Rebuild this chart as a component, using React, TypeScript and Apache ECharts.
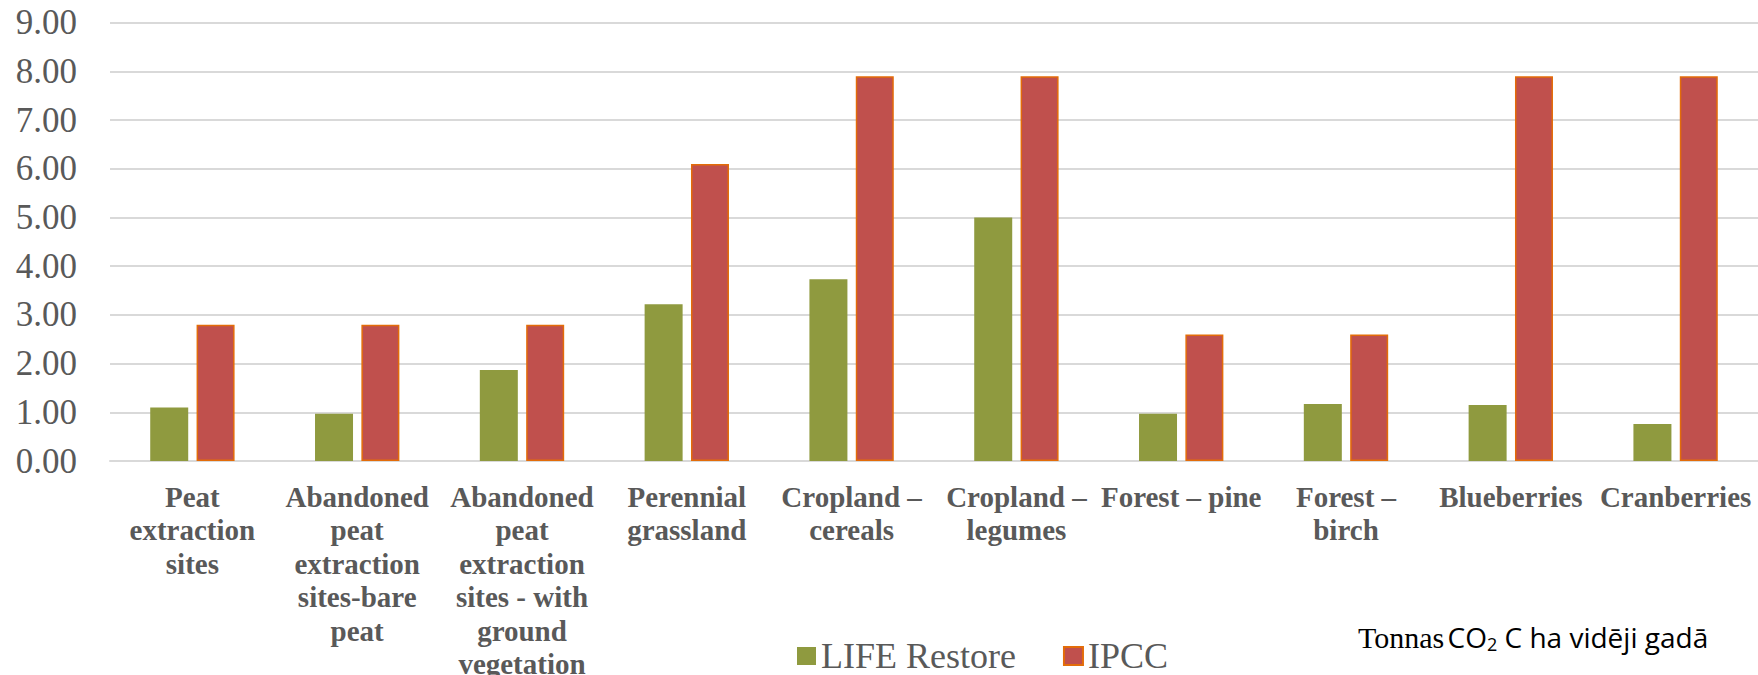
import React, { useEffect, useRef } from "react";
import * as echarts from "echarts";

const categories = [
  "Peat\nextraction\nsites",
  "Abandoned\npeat\nextraction\nsites-bare\npeat",
  "Abandoned\npeat\nextraction\nsites - with\nground\nvegetation",
  "Perennial\ngrassland",
  "Cropland –\ncereals",
  "Cropland –\nlegumes",
  "Forest – pine",
  "Forest –\nbirch",
  "Blueberries",
  "Cranberries",
];
const lifeRestore = [1.1, 0.97, 1.87, 3.22, 3.73, 5.0, 0.97, 1.17, 1.15, 0.76];
const ipcc = [2.8, 2.8, 2.8, 6.1, 7.9, 7.9, 2.6, 2.6, 7.9, 7.9];
const seriesNames = ["LIFE Restore", "IPCC"];
const yMin = 0;
const yMax = 9;
const yStep = 1;

export default function App() {
  const ref = useRef<HTMLDivElement>(null);
  useEffect(() => {
    if (!ref.current) return;
    const chart = echarts.init(ref.current, undefined, { renderer: "svg" });
    const serif = "'Liberation Serif', 'Times New Roman', serif";
    const sans = "'Open Sans', 'Noto Sans', sans-serif";
    chart.setOption({
      animation: false,
      backgroundColor: "#ffffff",
      grid: {
        left: 110,
        right: 0,
        top: 22.7,
        bottom: 214,
        containLabel: false,
        outerBoundsMode: "none",
      },
      xAxis: {
        type: "category",
        data: categories,
        axisLine: { show: true, lineStyle: { color: "#D9D9D9", width: 2 } },
        axisTick: { show: false },
        axisLabel: {
          interval: 0,
          margin: 19,
          color: "#595959",
          fontFamily: serif,
          fontWeight: "bold",
          fontSize: 29,
          lineHeight: 33.5,
          verticalAlign: "top",
        },
      },
      yAxis: {
        type: "value",
        min: yMin,
        max: yMax,
        interval: yStep,
        axisLine: { show: false },
        axisTick: { show: false },
        splitLine: { lineStyle: { color: "#D9D9D9", width: 2 } },
        axisLabel: {
          margin: 33,
          color: "#595959",
          fontFamily: serif,
          fontSize: 35,
          formatter: (v: number) => v.toFixed(2),
        },
      },
      legend: {
        left: 792,
        top: 633,
        itemWidth: 19,
        itemHeight: 18,
        itemGap: 47,
        icon: "rect",
        textStyle: { color: "#595959", fontFamily: serif, fontSize: 36, lineHeight: 36 },
        data: seriesNames,
      },
      series: [
        {
          name: seriesNames[0],
          type: "bar",
          data: lifeRestore,
          barWidth: 38,
          barGap: "22%",
          itemStyle: { color: "#8F9A3F" },
        },
        {
          name: seriesNames[1],
          type: "bar",
          data: ipcc,
          barWidth: 38,
          itemStyle: { color: "#C0504D", borderColor: "#E36C09", borderWidth: 1.5 },
        },
      ],
      graphic: [
        {
          type: "text",
          left: 1358,
          top: 622,
          style: {
            text: "{a|Tonnas} {b|CO}{s|2}{b| C ha vidēji gadā}",
            rich: {
              a: { fontFamily: serif, fontSize: 30, fill: "#000000" },
              b: { fontFamily: sans, fontSize: 28, fill: "#000000" },
              s: { fontFamily: sans, fontSize: 18, fill: "#000000", padding: [14, 0, 0, 0] },
            },
          },
        },
      ],
    });
    return () => chart.dispose();
  }, []);
  return (
    <div
      ref={ref}
      style={{ position: "fixed", left: 0, top: 0, width: 1758, height: 675, background: "#fff" }}
    />
  );
}
